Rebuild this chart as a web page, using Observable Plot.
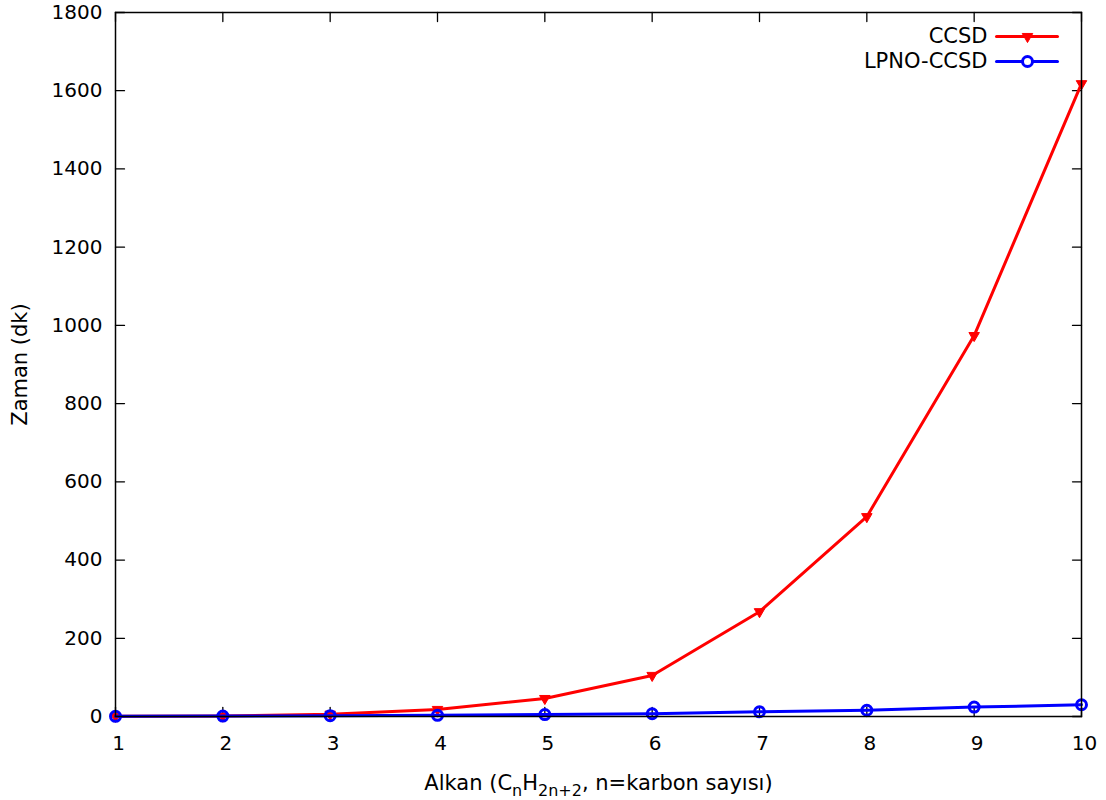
<!DOCTYPE html>
<html>
<head>
<meta charset="utf-8">
<script src="https://cdn.jsdelivr.net/npm/d3@7"></script>
<script src="https://cdn.jsdelivr.net/npm/@observablehq/plot@0.6"></script>
<style>
  html, body { margin: 0; padding: 0; background: #fff; }
  #chart svg { display: block; }
</style>
</head>
<body>
<div id="chart"></div>
<script>
const nValues = [1, 2, 3, 4, 5, 6, 7, 8, 9, 10];
const ccsd = [0.5, 1, 6, 18, 46, 105, 268, 511, 974, 1618];
const lpno = [0.5, 1, 2, 3, 5, 7, 12, 16, 24, 30];
const xTicks = [1, 2, 3, 4, 5, 6, 7, 8, 9, 10];
const yTicks = [0, 200, 400, 600, 800, 1000, 1200, 1400, 1600, 1800];
const seriesNames = ["CCSD", "LPNO-CCSD"];
const colors = ["#ff0000", "#0000ff"];

const ccsdData = nValues.map((n, i) => ({n, v: ccsd[i]}));
const lpnoData = nValues.map((n, i) => ({n, v: lpno[i]}));

const lineShape = {draw(context, l) { context.moveTo(0, 0); context.lineTo(0, -l); }};
const TICKFONT = 20;
const FONT = 21;

const plot = Plot.plot({
  width: 1106,
  height: 800,
  marginLeft: 115,
  marginRight: 25,
  marginTop: 12,
  marginBottom: 84,
  style: {fontFamily: "DejaVu Sans, sans-serif", fontSize: FONT + "px", background: "#fff", color: "#000"},
  x: {domain: [1, 10]},
  y: {domain: [0, 1800]},
  marks: [
    Plot.axisY(yTicks, {tickSize: 0, tickPadding: 13, fontSize: TICKFONT, label: null, tickFormat: d => String(d)}),
    Plot.axisX(xTicks, {tickSize: 0, tickPadding: 19, dx: 3, fontSize: TICKFONT, label: null, tickFormat: d => String(d)}),
    // inward ticks on all sides
    Plot.vector(yTicks, {y: d => d, frameAnchor: "left", rotate: 90, length: 9, anchor: "start", shape: lineShape, stroke: "black", strokeWidth: 1.3}),
    Plot.vector(yTicks, {y: d => d, frameAnchor: "right", rotate: -90, length: 9, anchor: "start", shape: lineShape, stroke: "black", strokeWidth: 1.3}),
    Plot.vector(xTicks, {x: d => d, frameAnchor: "bottom", rotate: 0, length: 9, anchor: "start", shape: lineShape, stroke: "black", strokeWidth: 1.3}),
    Plot.vector(xTicks, {x: d => d, frameAnchor: "top", rotate: 180, length: 9, anchor: "start", shape: lineShape, stroke: "black", strokeWidth: 1.3}),
    // series
    Plot.line(ccsdData, {x: "n", y: "v", stroke: colors[0], strokeWidth: 3}),
    Plot.dot(ccsdData, {x: "n", y: "v", symbol: "triangle", rotate: 180, r: 3.9, fill: colors[0], stroke: colors[0], strokeWidth: 1}),
    Plot.line(lpnoData, {x: "n", y: "v", stroke: colors[1], strokeWidth: 3}),
    Plot.dot(lpnoData, {x: "n", y: "v", symbol: "circle", r: 5, fill: "none", stroke: colors[1], strokeWidth: 3}),
    Plot.frame({stroke: "black", strokeWidth: 1.5}),
    // legend
    Plot.text([seriesNames[0]], {text: d => d, frameAnchor: "top-right", lineAnchor: "middle", dx: -94, dy: 24, textAnchor: "end", fontSize: FONT}),
    Plot.vector([0], {frameAnchor: "top-right", dx: -85, dy: 24, rotate: 90, length: 61, anchor: "start", shape: lineShape, stroke: colors[0], strokeWidth: 3}),
    Plot.dot([0], {frameAnchor: "top-right", dx: -54, dy: 24, symbol: "triangle", rotate: 180, r: 3.9, fill: colors[0], stroke: colors[0], strokeWidth: 1}),
    Plot.text([seriesNames[1]], {text: d => d, frameAnchor: "top-right", lineAnchor: "middle", dx: -94, dy: 49, textAnchor: "end", fontSize: FONT}),
    Plot.vector([0], {frameAnchor: "top-right", dx: -85, dy: 49, rotate: 90, length: 61, anchor: "start", shape: lineShape, stroke: colors[1], strokeWidth: 3}),
    Plot.dot([0], {frameAnchor: "top-right", dx: -54, dy: 49, symbol: "circle", r: 5, fill: "white", stroke: colors[1], strokeWidth: 3}),
    // axis titles
    Plot.text(["XLABEL"], {text: d => d, frameAnchor: "bottom", lineAnchor: "middle", dy: 67, fontSize: FONT}),
    Plot.text(["Zaman (dk)"], {text: d => d, frameAnchor: "left", textAnchor: "middle", lineAnchor: "middle", dx: -95, rotate: -90, fontSize: FONT})
  ]
});

document.getElementById("chart").appendChild(plot);

// rebuild x label with real subscripts
d3.select(plot).selectAll("text").filter(function() { return this.textContent === "XLABEL"; }).each(function() {
  const t = d3.select(this);
  t.text(null);
  const parts = [
    {s: "Alkan (C", dy: 0, sub: false},
    {s: "n", dy: 6, sub: true},
    {s: "H", dy: -6, sub: false},
    {s: "2n+2", dy: 6, sub: true},
    {s: ", n=karbon sayısı)", dy: -6, sub: false}
  ];
  for (const p of parts) {
    const ts = t.append("tspan").text(p.s).attr("dy", p.dy);
    if (p.sub) ts.attr("font-size", 16);
  }
});
</script>
</body>
</html>
